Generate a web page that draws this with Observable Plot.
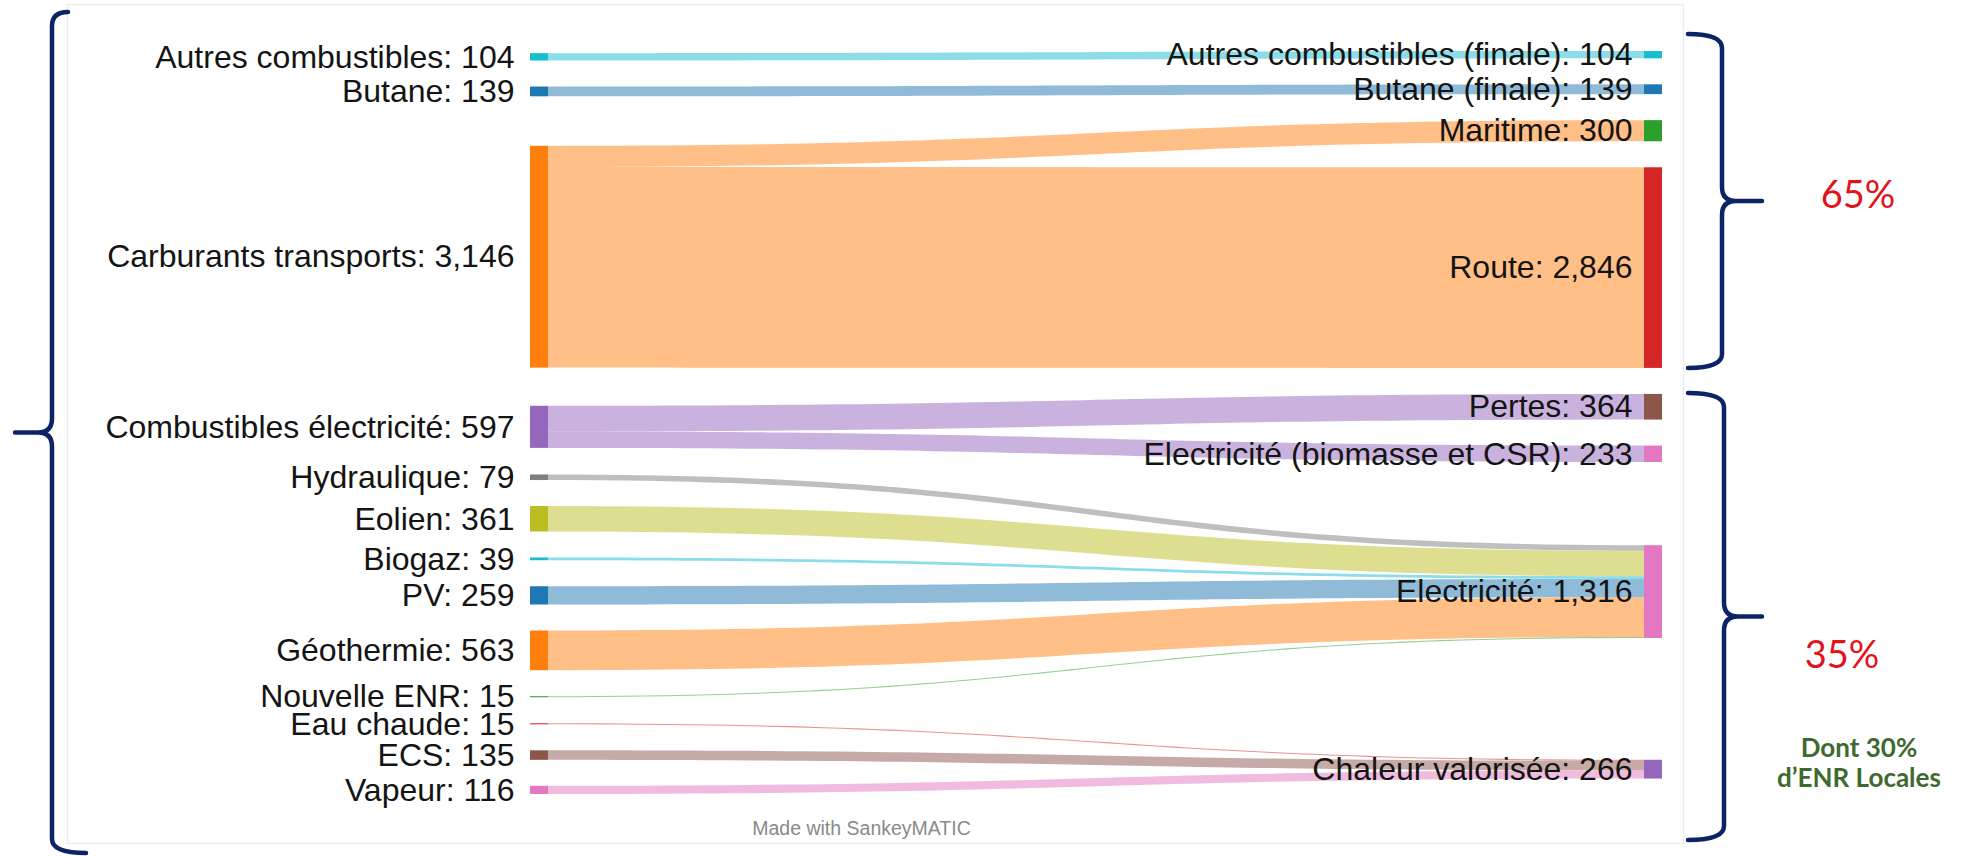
<!DOCTYPE html>
<html lang="fr">
<head>
<meta charset="utf-8">
<script src="https://cdn.jsdelivr.net/npm/d3@7"></script>
<script src="https://cdn.jsdelivr.net/npm/@observablehq/plot@0.6"></script>
<style>
  html, body { margin: 0; padding: 0; background: #fff; }
  #chart svg { display: block; }
</style>
</head>
<body>
<div id="chart"></div>
<script>
// ---- Flows: source → target (GWh) ----
const linkSources = [
  "Autres combustibles", "Butane",
  "Carburants transports", "Carburants transports",
  "Combustibles électricité", "Combustibles électricité",
  "Hydraulique", "Eolien", "Biogaz", "PV", "Géothermie", "Nouvelle ENR",
  "Eau chaude", "ECS", "Vapeur"
];
const linkTargets = [
  "Autres combustibles (finale)", "Butane (finale)",
  "Maritime", "Route",
  "Pertes", "Electricité (biomasse et CSR)",
  "Electricité", "Electricité", "Electricité", "Electricité", "Electricité", "Electricité",
  "Chaleur valorisée", "Chaleur valorisée", "Chaleur valorisée"
];
const linkValues = [104, 139, 300, 2846, 364, 233, 79, 361, 39, 259, 563, 15, 15, 135, 116];

// ---- Nodes, in column order, with their colours ----
const nodeNames = [
  "Autres combustibles", "Butane", "Carburants transports", "Combustibles électricité",
  "Hydraulique", "Eolien", "Biogaz", "PV", "Géothermie", "Nouvelle ENR",
  "Eau chaude", "ECS", "Vapeur",
  "Autres combustibles (finale)", "Butane (finale)", "Maritime", "Route",
  "Pertes", "Electricité (biomasse et CSR)", "Electricité", "Chaleur valorisée"
];
const nodeColors = [
  "#17becf", "#1f77b4", "#ff7f0e", "#9467bd",
  "#7f7f7f", "#bcbd22", "#17becf", "#1f77b4", "#ff7f0e", "#2ca02c",
  "#d62728", "#8c564b", "#e377c2",
  "#17becf", "#1f77b4", "#2ca02c", "#d62728",
  "#8c564b", "#e377c2", "#e377c2", "#9467bd"
];

// ---- Annotation texts ----
const shareLabels = ["65%", "35%"];
const shareNote = ["Dont 30%", "d’ENR Locales"];
const creditText = "Made with SankeyMATIC";

// ---- Layout settings ----
const WIDTH = 1962, HEIGHT = 857;
const X_RANGE = [530, 1662];      // left edge of first column → right edge of last column
const Y_RANGE = [50, 794];
const NODE_WIDTH = 18;            // px
const NODE_PADDING = 26;          // px
const PX_PER_UNIT = 0.0705;       // node height per GWh
const ITERATIONS = 100;

const extent = (Y_RANGE[1] - Y_RANGE[0]) / PX_PER_UNIT;
const py = NODE_PADDING / PX_PER_UNIT;
const wFrac = NODE_WIDTH / (X_RANGE[1] - X_RANGE[0]);
const fmt = d3.format(",");

// Sankey node placement (d3-sankey style relaxation, input order kept), in value units
function sankeyLayout() {
  const nodes = nodeNames.map((name, i) => ({name, color: nodeColors[i], index: i, sourceLinks: [], targetLinks: []}));
  const byName = new Map(nodes.map(n => [n.name, n]));
  const links = linkValues.map((value, i) => {
    const l = {index: i, value, width: value, source: byName.get(linkSources[i]), target: byName.get(linkTargets[i])};
    l.source.sourceLinks.push(l);
    l.target.targetLinks.push(l);
    return l;
  });
  for (const n of nodes) {
    n.value = Math.max(d3.sum(n.sourceLinks, l => l.value), d3.sum(n.targetLinks, l => l.value));
  }
  const layerOf = n => n.layer ?? (n.layer = n.targetLinks.length ? 1 + d3.max(n.targetLinks, l => layerOf(l.source)) : 0);
  nodes.forEach(layerOf);
  const maxLayer = d3.max(nodes, n => n.layer);
  const columns = d3.range(maxLayer + 1).map(d => nodes.filter(n => n.layer === d));

  const byBreadth = (a, b) => a.y0 - b.y0;
  const byTarget = (a, b) => byBreadth(a.target, b.target) || a.index - b.index;
  const bySource = (a, b) => byBreadth(a.source, b.source) || a.index - b.index;
  const reorderLinks = col => { for (const n of col) { n.sourceLinks.sort(byTarget); n.targetLinks.sort(bySource); } };
  const reorderNodeLinks = n => {
    for (const {source} of n.targetLinks) source.sourceLinks.sort(byTarget);
    for (const {target} of n.sourceLinks) target.targetLinks.sort(bySource);
  };

  // initial stacking, spread over the extent
  for (const col of columns) {
    let y = 0;
    for (const n of col) { n.y0 = y; n.y1 = y + n.value; y = n.y1 + py; }
    const step = (extent - y + py) / (col.length + 1);
    col.forEach((n, i) => { n.y0 += step * (i + 1); n.y1 += step * (i + 1); });
    reorderLinks(col);
  }

  function targetTop(source, target) {
    let y = source.y0 - (source.sourceLinks.length - 1) * py / 2;
    for (const {target: node, width} of source.sourceLinks) { if (node === target) break; y += width + py; }
    for (const {source: node, width} of target.targetLinks) { if (node === source) break; y -= width; }
    return y;
  }
  function sourceTop(source, target) {
    let y = target.y0 - (target.targetLinks.length - 1) * py / 2;
    for (const {source: node, width} of target.targetLinks) { if (node === source) break; y += width + py; }
    for (const {target: node, width} of source.sourceLinks) { if (node === target) break; y -= width; }
    return y;
  }
  function collideDown(col, y, i, alpha) {
    for (; i < col.length; ++i) {
      const n = col[i], dy = (y - n.y0) * alpha;
      if (dy > 1e-6) { n.y0 += dy; n.y1 += dy; }
      y = n.y1 + py;
    }
  }
  function collideUp(col, y, i, alpha) {
    for (; i >= 0; --i) {
      const n = col[i], dy = (n.y1 - y) * alpha;
      if (dy > 1e-6) { n.y0 -= dy; n.y1 -= dy; }
      y = n.y0 - py;
    }
  }
  function resolveCollisions(col, alpha) {
    const i = col.length >> 1, subject = col[i];
    collideUp(col, subject.y0 - py, i - 1, alpha);
    collideDown(col, subject.y1 + py, i + 1, alpha);
    collideUp(col, extent, col.length - 1, alpha);
    collideDown(col, 0, 0, alpha);
  }
  function relaxLeftToRight(alpha, beta) {
    for (let i = 1; i < columns.length; ++i) {
      const col = columns[i];
      for (const target of col) {
        let y = 0, w = 0;
        for (const {source, value} of target.targetLinks) {
          const v = value * (target.layer - source.layer);
          y += targetTop(source, target) * v; w += v;
        }
        if (!(w > 0)) continue;
        const dy = (y / w - target.y0) * alpha;
        target.y0 += dy; target.y1 += dy;
        reorderNodeLinks(target);
      }
      resolveCollisions(col, beta);
    }
  }
  function relaxRightToLeft(alpha, beta) {
    for (let i = columns.length - 2; i >= 0; --i) {
      const col = columns[i];
      for (const source of col) {
        let y = 0, w = 0;
        for (const {target, value} of source.sourceLinks) {
          const v = value * (target.layer - source.layer);
          y += sourceTop(source, target) * v; w += v;
        }
        if (!(w > 0)) continue;
        const dy = (y / w - source.y0) * alpha;
        source.y0 += dy; source.y1 += dy;
        reorderNodeLinks(source);
      }
      resolveCollisions(col, beta);
    }
  }
  for (let i = 0; i < ITERATIONS; ++i) {
    const alpha = Math.pow(0.99, i);
    const beta = Math.max(1 - alpha, (i + 1) / ITERATIONS);
    relaxRightToLeft(alpha, beta);
    relaxLeftToRight(alpha, beta);
  }

  // link offsets at each end
  for (const n of nodes) {
    n.sourceLinks.sort(byTarget);
    n.targetLinks.sort(bySource);
  }
  for (const n of nodes) {
    let y0 = n.y0, y1 = n.y0;
    for (const l of n.sourceLinks) { l.sy = y0; y0 += l.width; }
    for (const l of n.targetLinks) { l.ty = y1; y1 += l.width; }
    n.x0 = n.layer === 0 ? 0 : 1 - wFrac;
    n.x1 = n.x0 + wFrac;
    n.label = `${n.name}: ${fmt(n.value)}`;
  }
  return {nodes, links, maxLayer};
}

const {nodes, links, maxLayer} = sankeyLayout();

// Link bands sampled along a horizontal bump curve
const STEPS = 64;
const linkBands = links.flatMap(l => {
  const xs = wFrac, xt = 1 - wFrac, xm = (xs + xt) / 2;
  return d3.range(STEPS + 1).map(i => {
    const t = i / STEPS, u = 1 - t;
    const x = xs * u * u * u + 3 * xm * u * u * t + 3 * xm * u * t * t + xt * t * t * t;
    const a = u * u * u + 3 * u * u * t, b = 1 - a;
    return {
      link: l.index, color: l.source.color, x,
      y1: l.sy * a + l.ty * b,
      y2: (l.sy + l.width) * a + (l.ty + l.width) * b
    };
  });
});

const leftNodes = nodes.filter(n => n.layer === 0);
const rightNodes = nodes.filter(n => n.layer === maxLayer);
const LABEL_FONT = "'Liberation Sans', Arial, Helvetica, sans-serif";

const plot = Plot.plot({
  width: WIDTH, height: HEIGHT,
  marginLeft: 67, marginRight: WIDTH - 1683, marginTop: 4, marginBottom: 14,
  x: {domain: [0, 1], range: X_RANGE, axis: null},
  y: {domain: [0, extent], range: Y_RANGE, axis: null},
  color: {type: "identity"},
  style: {fontFamily: LABEL_FONT, background: "white", overflow: "visible"},
  marks: [
    Plot.frame({stroke: "#ededed", strokeWidth: 1.5}),
    Plot.area(linkBands, {x1: "x", y1: "y1", y2: "y2", z: "link", fill: "color", fillOpacity: 0.5, curve: "linear"}),
    Plot.rect(nodes, {x1: "x0", x2: "x1", y1: "y0", y2: "y1", fill: "color"}),
    Plot.text(leftNodes, {
      x: "x0", y: d => (d.y0 + d.y1) / 2, text: "label",
      textAnchor: "end", dx: -16, fontSize: 32, fill: "#141414"
    }),
    Plot.text(rightNodes, {
      x: "x0", y: d => (d.y0 + d.y1) / 2, text: "label",
      textAnchor: "end", dx: -12, fontSize: 32, fill: "#141414", ariaLabel: "target-labels"
    }),
    Plot.text([creditText], {
      frameAnchor: "bottom", lineAnchor: "bottom", dx: -14, dy: -9,
      fontSize: 19.5, fill: "#8a8a8a"
    })
  ]
});

document.getElementById("chart").appendChild(plot);

// Rounded highlight boxes behind the target labels
const svgNS = "http://www.w3.org/2000/svg";
const svgBox = plot.getBoundingClientRect();
const labelGroup = plot.querySelector('g[aria-label="target-labels"]');
if (labelGroup) {
  const bg = document.createElementNS(svgNS, "g");
  for (const t of labelGroup.querySelectorAll("text")) {
    const r = t.getBoundingClientRect();
    const rect = document.createElementNS(svgNS, "rect");
    rect.setAttribute("x", r.left - svgBox.left - 10);
    rect.setAttribute("y", r.top - svgBox.top - 6);
    rect.setAttribute("width", r.width + 19);
    rect.setAttribute("height", r.height + 12);
    rect.setAttribute("rx", 6);
    rect.setAttribute("fill", "#ffffff");
    rect.setAttribute("fill-opacity", 0.6);
    bg.appendChild(rect);
  }
  labelGroup.parentNode.insertBefore(bg, labelGroup);
}

// Braces and share annotations
const sx = plot.scale("x"), sy = plot.scale("y");
const node = name => nodes.find(n => n.name === name);
const svg = d3.select(plot);
const braceColor = "#0c2466";

function bracePath(lx, tx, hxTop, hxBot, y0, y1, m, r = 14) {
  const s = Math.sign(tx - lx);
  return `M${hxTop},${y0} Q${lx},${y0} ${lx},${y0 + r} L${lx},${m - r} Q${lx},${m} ${lx + s * r},${m} L${tx},${m}` +
         ` M${lx + s * r},${m} Q${lx},${m} ${lx},${m + r} L${lx},${y1 - r} Q${lx},${y1} ${hxBot},${y1}`;
}

const xr = sx.apply(1);
const g1Top = sy.apply(node("Autres combustibles (finale)").y0) - 17;
const g1Bot = sy.apply(node("Route").y1);
const g2Top = sy.apply(node("Pertes").y0) - 1;
const g2Bot = HEIGHT - 17;
const m1 = (g1Top + g1Bot) / 2, m2 = (g2Top + g2Bot) / 2;

const braces = svg.append("g").attr("fill", "none").attr("stroke", braceColor)
  .attr("stroke-width", 4.5).attr("stroke-linecap", "round");
braces.append("path").attr("d", bracePath(52, 15, 68, 86, 12, 853, (12 + 853) / 2));
braces.append("path").attr("d", bracePath(xr + 60, xr + 100, xr + 26, xr + 26, g1Top, g1Bot, m1));
braces.append("path").attr("d", bracePath(xr + 62, xr + 100, xr + 26, xr + 26, g2Top, g2Bot, m2));

const notes = svg.append("g").attr("font-family", "Lato, 'Open Sans', sans-serif").attr("text-anchor", "middle");
notes.append("text").attr("x", xr + 196).attr("y", m1 - 6).attr("dy", "0.35em")
  .attr("font-size", 38).attr("fill", "#e3131b").text(shareLabels[0]);
notes.append("text").attr("x", xr + 180).attr("y", m2 + 38).attr("dy", "0.35em")
  .attr("font-size", 38).attr("fill", "#e3131b").text(shareLabels[1]);
shareNote.forEach((line, i) => {
  notes.append("text").attr("x", xr + 197).attr("y", m2 + 131 + i * 30).attr("dy", "0.35em")
    .attr("font-size", 26).attr("font-weight", "bold").attr("fill", "#3f6a2f").text(line);
});
</script>
</body>
</html>
